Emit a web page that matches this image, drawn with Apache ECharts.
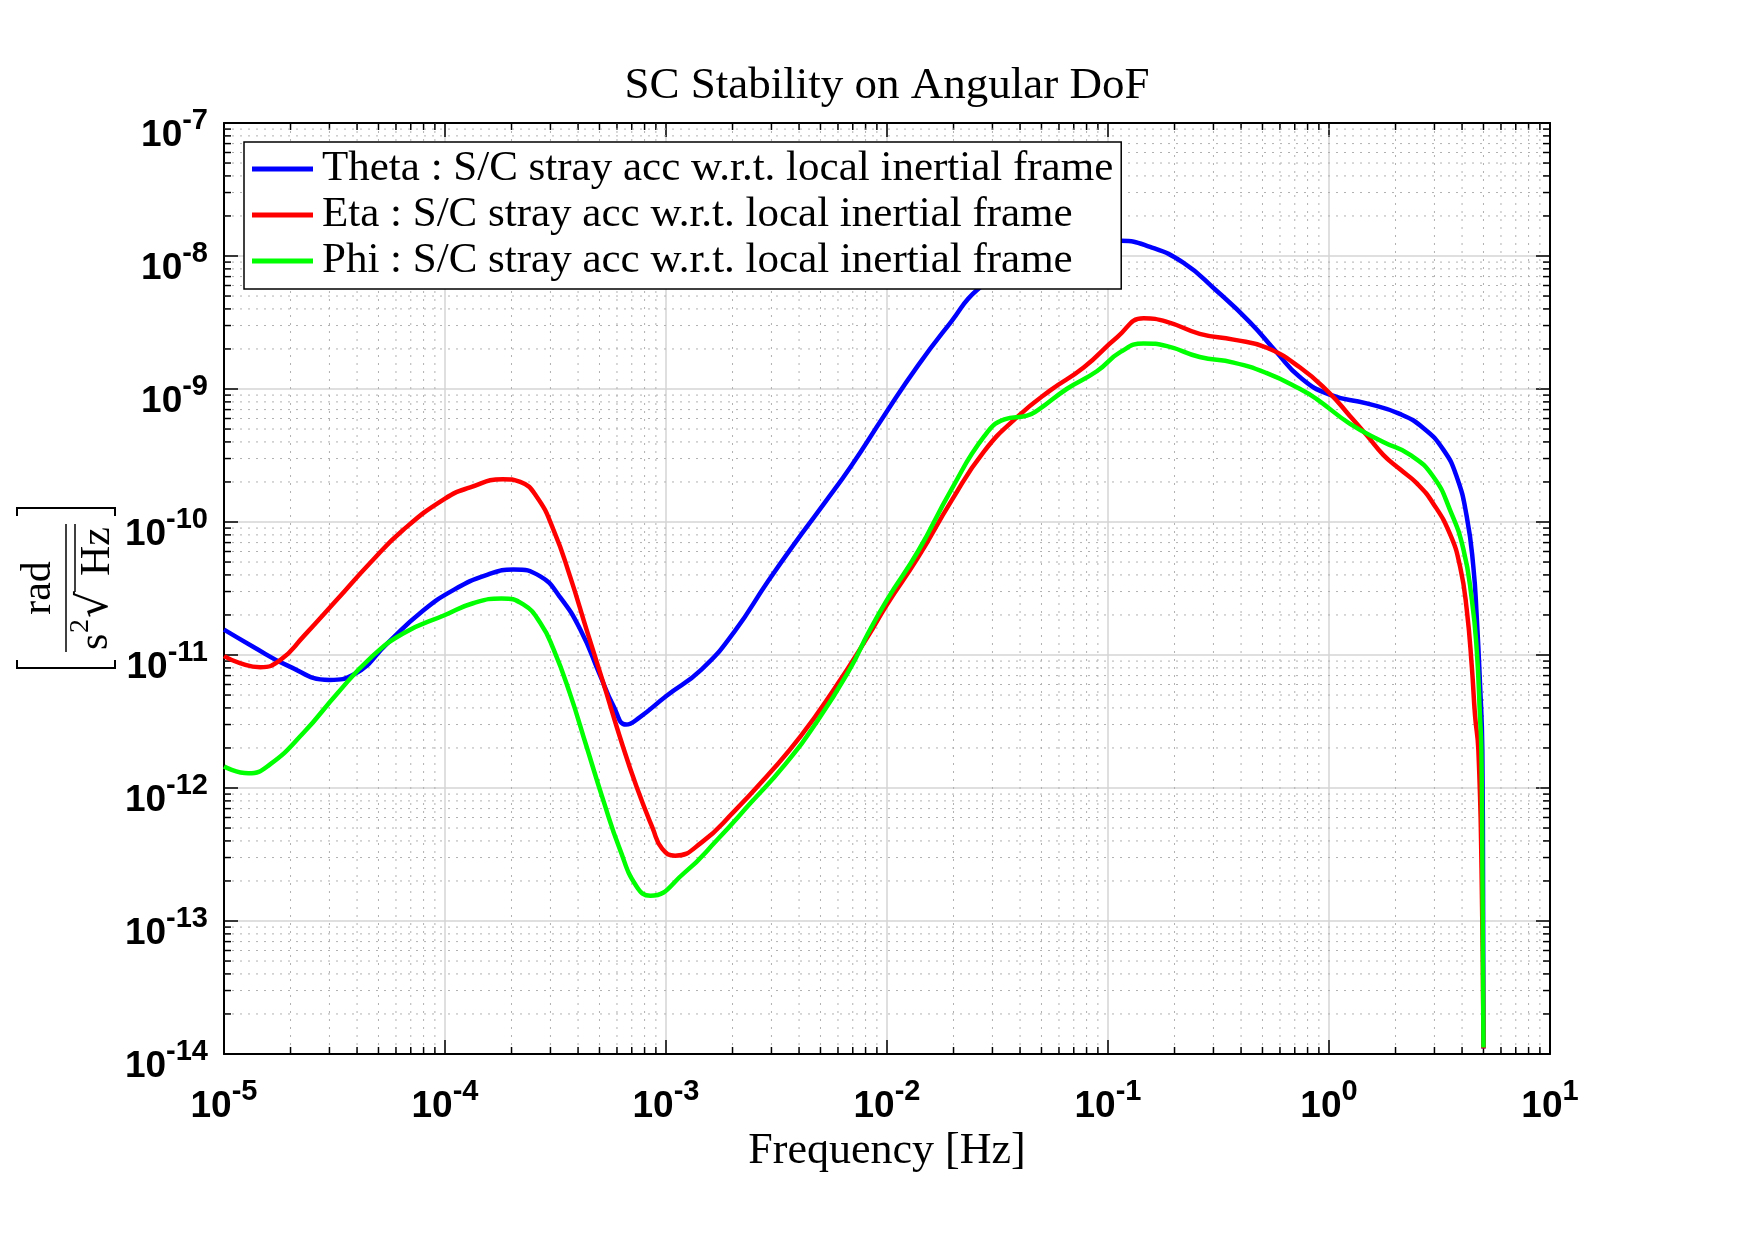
<!DOCTYPE html>
<html>
<head>
<meta charset="utf-8">
<title>SC Stability on Angular DoF</title>
<script src="https://cdn.jsdelivr.net/npm/echarts@6/dist/echarts.min.js"></script>
<style>
  html, body { margin: 0; padding: 0; background: #fff; }
  #main { width: 1755px; height: 1240px; }
</style>
</head>
<body>
<div id="main"></div>
<script>
// values: frequency [Hz] / value [rad/(s^2 sqrt(Hz))]
const thetaFreq = [1e-5, 1.36e-5, 1.92e-5, 3.0e-5, 3.9e-5, 5.5e-5, 7.8e-5, 1.1e-4, 1.55e-4, 2.04e-4,
  2.7e-4, 3.3e-4, 4.1e-4, 5.0e-4, 5.8e-4, 6.6e-4, 7.6e-4, 1.0e-3, 1.45e-3, 2.04e-3,
  2.9e-3, 4.1e-3, 5.2e-3, 6.9e-3, 9.7e-3, 1.38e-2, 1.95e-2, 2.57e-2, 4.0e-2, 6.3e-2,
  8.9e-2, 0.114, 0.155, 0.219, 0.309, 0.437, 0.578, 0.738, 1.0, 1.48,
  2.09, 2.67, 3.29, 3.78, 4.2, 4.5, 4.66, 4.82, 4.94, 4.98, 5.0]
const thetaVal = [1.55e-11, 1.15e-11, 8.4e-12, 6.5e-12, 7.2e-12, 1.23e-11, 2.1e-11, 3.1e-11, 4.0e-11, 4.4e-11,
  3.9e-11, 2.75e-11, 1.55e-11, 7.2e-12, 4.1e-12, 3.0e-12, 3.4e-12, 4.9e-12, 7.8e-12, 1.5e-11,
  3.6e-11, 8.1e-11, 1.38e-10, 2.65e-10, 6.3e-10, 1.5e-9, 3.2e-9, 5.6e-9, 8.9e-9, 1.17e-8,
  1.29e-8, 1.3e-8, 1.17e-8, 8.9e-9, 5.5e-9, 3.2e-9, 1.9e-9, 1.23e-9, 9.1e-10, 7.8e-10,
  6.5e-10, 5.1e-10, 3.5e-10, 2.2e-10, 1.1e-10, 4.6e-11, 1.95e-11, 6.2e-12, 1.95e-12, 1.6e-13, 1.1e-14]

const etaFreq = [1e-5, 1.18e-5, 1.46e-5, 1.79e-5, 2.29e-5, 3.24e-5, 4.57e-5, 6.46e-5, 1e-4, 1.3e-4,
  1.83e-4, 2.19e-4, 2.6e-4, 3.1e-4, 3.68e-4, 4.37e-4, 5.2e-4, 6.17e-4, 7.36e-4, 8.7e-4,
  9.6e-4, 1.1e-3, 1.45e-3, 2.04e-3, 2.9e-3, 4.07e-3, 5.75e-3, 8.2e-3, 1e-2, 1.38e-2,
  1.95e-2, 2.75e-2, 3.9e-2, 5.5e-2, 7.76e-2, 0.11, 0.145, 0.185, 0.26, 0.37,
  0.52, 0.74, 1.0, 1.24, 1.48, 1.76, 2.09, 2.5, 2.96, 3.53,
  3.92, 4.2, 4.43, 4.58, 4.74, 4.9, 5.0]
const etaVal = [9.8e-12, 8.7e-12, 8.1e-12, 9.1e-12, 1.38e-11, 2.6e-11, 4.9e-11, 8.7e-11, 1.5e-10, 1.82e-10,
  2.1e-10, 2.0e-10, 1.55e-10, 8.7e-11, 3.9e-11, 1.55e-11, 6.2e-12, 2.45e-12, 1.02e-12, 5.0e-13,
  3.5e-13, 3.1e-13, 3.9e-13, 6.7e-13, 1.26e-12, 2.45e-12, 5.5e-12, 1.38e-11, 2.4e-11, 5.4e-11,
  1.43e-10, 3.4e-10, 6.2e-10, 9.8e-10, 1.45e-9, 2.45e-9, 3.4e-9, 3.2e-9, 2.6e-9, 2.35e-9,
  2.05e-9, 1.45e-9, 9.4e-10, 6.3e-10, 4.5e-10, 3.2e-10, 2.5e-10, 1.95e-10, 1.38e-10, 8.1e-11,
  4.6e-11, 2.2e-11, 8.1e-12, 3.5e-12, 1.95e-12, 2.5e-13, 1.1e-14]

const phiFreq = [1e-5, 1.29e-5, 1.61e-5, 2.29e-5, 3.24e-5, 4.57e-5, 6.46e-5, 1e-4, 1.34e-4, 1.8e-4,
  2.26e-4, 2.7e-4, 3.1e-4, 3.68e-4, 4.37e-4, 5.2e-4, 6.17e-4, 7.36e-4, 8.5e-4, 1.21e-3,
  1.71e-3, 2.43e-3, 3.43e-3, 4.85e-3, 6.87e-3, 8.2e-3, 1e-2, 1.38e-2, 1.95e-2, 2.75e-2,
  3.4e-2, 4.3e-2, 4.8e-2, 6.5e-2, 8.9e-2, 0.114, 0.145, 0.185, 0.26, 0.37,
  0.52, 0.74, 0.88, 1.24, 1.76, 2.33, 2.96, 3.53, 4.06, 4.43,
  4.66, 4.82, 4.89, 4.95, 5.0]
const phiVal = [1.45e-12, 1.29e-12, 1.5e-12, 2.6e-12, 5.1e-12, 9.4e-12, 1.45e-11, 2.0e-11, 2.45e-11, 2.66e-11,
  2.4e-11, 1.74e-11, 1.1e-11, 5.1e-12, 2.05e-12, 8.1e-13, 3.5e-13, 1.82e-13, 1.55e-13, 2.3e-13,
  4.1e-13, 7.8e-13, 1.48e-12, 3.2e-12, 8.1e-12, 1.45e-11, 2.6e-11, 6.0e-11, 1.74e-10, 4.4e-10,
  5.9e-10, 6.3e-10, 6.9e-10, 1.0e-9, 1.36e-9, 1.9e-9, 2.2e-9, 2.1e-9, 1.74e-9, 1.58e-9,
  1.32e-9, 1.0e-9, 8.4e-10, 5.5e-10, 4.0e-10, 3.2e-10, 2.2e-10, 1.23e-10, 6.2e-11, 2.6e-11,
  1.1e-11, 3.5e-12, 1.95e-12, 2e-13, 1.12e-14]

const seriesNames = [
  'Theta : S/C stray acc w.r.t. local inertial frame',
  'Eta : S/C stray acc w.r.t. local inertial frame',
  'Phi : S/C stray acc w.r.t. local inertial frame'
]

// axis decades and minor tick positions (2..9 per decade)
const xDecades = [1e-5, 1e-4, 1e-3, 1e-2, 1e-1, 1]
const yDecades = [1e-14, 1e-13, 1e-12, 1e-11, 1e-10, 1e-9, 1e-8]
const minorSteps = [2, 3, 4, 5, 6, 7, 8, 9]
const minorX = []
xDecades.forEach(d => minorSteps.forEach(k => minorX.push(k * d)))
const minorY = []
yDecades.forEach(d => minorSteps.forEach(k => minorY.push(k * d)))

const X_MIN = 1e-5, X_MAX = 10, Y_MIN = 1e-14, Y_MAX = 1e-7

const serif = 'Liberation Serif'
const sans = 'Liberation Sans'

function pairs(fs, vs) {
  return fs.map((f, i) => [f, vs[i]])
}

function expLabel(v) {
  const e = Math.round(Math.log10(v))
  return '{b|10}{s|' + e + '}'
}

const labelRich = {
  b: { fontFamily: sans, fontWeight: 'bold', fontSize: 37, color: '#000' },
  s: { fontFamily: sans, fontWeight: 'bold', fontSize: 29, color: '#000', padding: [0, 0, 30, 0] }
}

const chart = echarts.init(document.getElementById('main'))

const option = {
  animation: false,
  backgroundColor: '#fff',
  title: {
    text: 'SC Stability on Angular DoF',
    left: 887,
    top: 64,
    textAlign: 'center',
    padding: 0,
    textStyle: { fontFamily: serif, fontSize: 45, fontWeight: 'normal', color: '#000' }
  },
  legend: {
    data: seriesNames,
    orient: 'vertical',
    left: 244,
    top: 142,
    padding: [4, 8, 5, 8],
    itemGap: 0,
    itemWidth: 61,
    itemHeight: 5,
    icon: 'rect',
    backgroundColor: '#fff',
    borderColor: '#000',
    borderWidth: 1.5,
    borderRadius: 0,
    textStyle: { fontFamily: serif, fontSize: 43, color: '#000', lineHeight: 46, padding: [0, 0, 0, 4] }
  },
  grid: {
    left: 224,
    right: 205,
    top: 123,
    bottom: 186,
    containLabel: false,
    outerBoundsMode: 'none'
  },
  xAxis: [
    {
      type: 'log',
      logBase: 10,
      min: X_MIN,
      max: X_MAX,
      name: 'Frequency [Hz]',
      nameLocation: 'middle',
      nameGap: 75,
      nameTextStyle: { fontFamily: serif, fontSize: 44, color: '#000' },
      axisLine: { show: true, lineStyle: { color: '#000', width: 2 } },
      axisTick: { show: true, inside: true, length: 14, lineStyle: { color: '#000', width: 1.5 } },
      axisLabel: { margin: 23, formatter: expLabel, rich: labelRich, hideOverlap: false },
      splitLine: { show: true, lineStyle: { color: '#d4d4d4', width: 1.5 } },
      minorTick: { show: false },
      minorSplitLine: { show: false }
    },
    {
      type: 'log',
      logBase: 10,
      min: X_MIN,
      max: X_MAX,
      position: 'top',
      axisLine: { show: true, lineStyle: { color: '#000', width: 2 } },
      axisTick: { show: true, inside: true, length: 14, lineStyle: { color: '#000', width: 1.5 } },
      axisLabel: { show: false },
      splitLine: { show: false }
    }
  ],
  yAxis: [
    {
      type: 'log',
      logBase: 10,
      min: Y_MIN,
      max: Y_MAX,
      axisLine: { show: true, lineStyle: { color: '#000', width: 2 } },
      axisTick: { show: true, inside: true, length: 14, lineStyle: { color: '#000', width: 1.5 } },
      axisLabel: { margin: 16, padding: [25, 0, 0, 0], formatter: expLabel, rich: labelRich, hideOverlap: false },
      splitLine: { show: true, lineStyle: { color: '#d4d4d4', width: 1.5 } }
    },
    {
      type: 'log',
      logBase: 10,
      min: Y_MIN,
      max: Y_MAX,
      position: 'right',
      axisLine: { show: true, lineStyle: { color: '#000', width: 2 } },
      axisTick: { show: true, inside: true, length: 14, lineStyle: { color: '#000', width: 1.5 } },
      axisLabel: { show: false },
      splitLine: { show: false }
    }
  ],
  graphic: [
    {
      // y axis unit: [ rad / (s^2 sqrt(Hz)) ], rotated
      type: 'group',
      x: 66,
      y: 588,
      rotation: Math.PI / 2,
      silent: true,
      children: [
        { type: 'text', style: { text: 'rad', x: 0, y: -27, align: 'center', verticalAlign: 'middle', font: '42px "Liberation Serif"', fill: '#000' } },
        { type: 'line', shape: { x1: -64, y1: 0, x2: 64, y2: 0 }, style: { stroke: '#000', lineWidth: 1.5 } },
        { type: 'text', style: { text: 's', x: -62, y: 30, align: 'left', verticalAlign: 'middle', font: '42px "Liberation Serif"', fill: '#000' } },
        { type: 'text', style: { text: '2', x: -45, y: 15, align: 'left', verticalAlign: 'middle', font: '28px "Liberation Serif"', fill: '#000' } },
        { type: 'text', style: { text: '\u221A', x: -30, y: 30, align: 'left', verticalAlign: 'middle', font: '42px "DejaVu Serif"', fill: '#000' } },
        { type: 'text', style: { text: 'Hz', x: 12, y: 32, align: 'left', verticalAlign: 'middle', font: '42px "Liberation Serif"', fill: '#000' } },
        { type: 'line', shape: { x1: -4, y1: 9, x2: 64, y2: 9 }, style: { stroke: '#000', lineWidth: 1.5 } },
        { type: 'polyline', shape: { points: [[-72, -49], [-80, -49], [-80, 49], [-72, 49]] }, style: { stroke: '#000', lineWidth: 2, fill: null } },
        { type: 'polyline', shape: { points: [[72, -49], [80, -49], [80, 49], [72, 49]] }, style: { stroke: '#000', lineWidth: 2, fill: null } }
      ]
    }
  ],
  series: [
    {
      // minor x grid + minor ticks on bottom/top
      type: 'custom',
      name: 'minorX',
      silent: true,
      z: 1,
      xAxisIndex: 0,
      yAxisIndex: 0,
      data: minorX.map(f => [f, 1e-10]),
      encode: { x: 0, y: 1 },
      renderItem: function (params, api) {
        const f = api.value(0)
        const top = api.coord([f, Y_MAX])
        const bot = api.coord([f, Y_MIN])
        return {
          type: 'group',
          children: [
            { type: 'line', shape: { x1: top[0], y1: top[1], x2: bot[0], y2: bot[1] }, style: { stroke: '#b0b0b0', lineWidth: 1, lineDash: [2, 6] } },
            { type: 'line', shape: { x1: bot[0], y1: bot[1], x2: bot[0], y2: bot[1] - 7 }, style: { stroke: '#000', lineWidth: 1.5 } },
            { type: 'line', shape: { x1: top[0], y1: top[1], x2: top[0], y2: top[1] + 7 }, style: { stroke: '#000', lineWidth: 1.5 } }
          ]
        }
      }
    },
    {
      // minor y grid + minor ticks on left/right
      type: 'custom',
      name: 'minorY',
      silent: true,
      z: 1,
      xAxisIndex: 0,
      yAxisIndex: 0,
      data: minorY.map(v => [1e-2, v]),
      encode: { x: 0, y: 1 },
      renderItem: function (params, api) {
        const v = api.value(1)
        const l = api.coord([X_MIN, v])
        const r = api.coord([X_MAX, v])
        return {
          type: 'group',
          children: [
            { type: 'line', shape: { x1: l[0], y1: l[1], x2: r[0], y2: r[1] }, style: { stroke: '#b0b0b0', lineWidth: 1, lineDash: [2, 6] } },
            { type: 'line', shape: { x1: l[0], y1: l[1], x2: l[0] + 7, y2: l[1] }, style: { stroke: '#000', lineWidth: 1.5 } },
            { type: 'line', shape: { x1: r[0], y1: r[1], x2: r[0] - 7, y2: r[1] }, style: { stroke: '#000', lineWidth: 1.5 } }
          ]
        }
      }
    },
    {
      name: seriesNames[0],
      type: 'line',
      data: pairs(thetaFreq, thetaVal),
      showSymbol: false,
      symbol: 'none',
      smooth: 0.5,
      color: '#0000ff',
      lineStyle: { color: '#0000ff', width: 4.5 }
    },
    {
      name: seriesNames[1],
      type: 'line',
      data: pairs(etaFreq, etaVal),
      showSymbol: false,
      symbol: 'none',
      smooth: 0.5,
      color: '#ff0000',
      lineStyle: { color: '#ff0000', width: 4.5 }
    },
    {
      name: seriesNames[2],
      type: 'line',
      data: pairs(phiFreq, phiVal),
      showSymbol: false,
      symbol: 'none',
      smooth: 0.5,
      color: '#00ff00',
      lineStyle: { color: '#00ff00', width: 4.5 }
    }
  ]
}

option && chart.setOption(option)
</script>
</body>
</html>
